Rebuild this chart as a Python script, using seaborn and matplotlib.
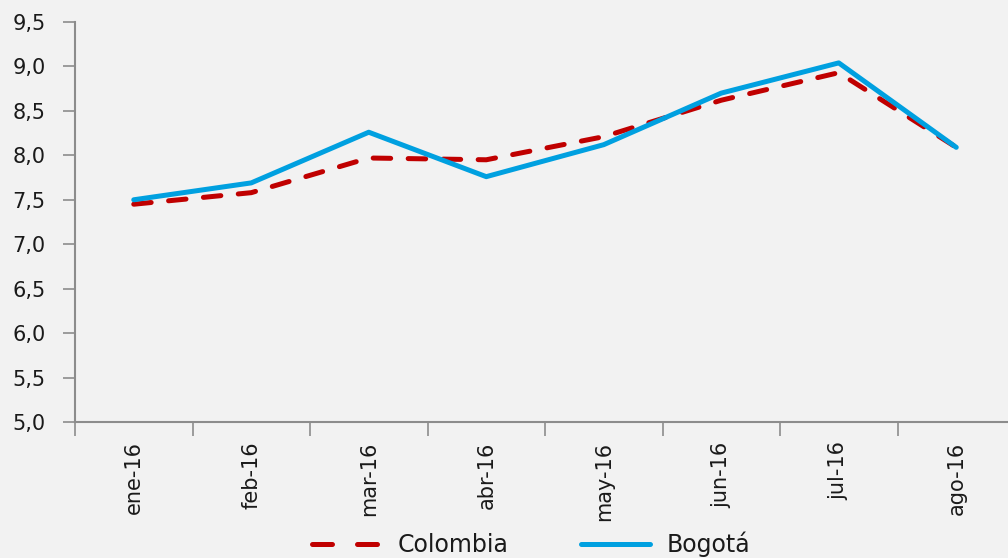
import pandas as pd
import seaborn as sns
import matplotlib.pyplot as plt
from matplotlib.lines import Line2D
from matplotlib.ticker import FuncFormatter, FixedLocator

meses = ['ene-16', 'feb-16', 'mar-16', 'abr-16', 'may-16', 'jun-16', 'jul-16', 'ago-16']
colombia = [7.45, 7.58, 7.97, 7.95, 8.21, 8.62, 8.93, 8.09]
bogota = [7.50, 7.69, 8.26, 7.76, 8.12, 8.70, 9.04, 8.09]
y_ticks = [5.0, 5.5, 6.0, 6.5, 7.0, 7.5, 8.0, 8.5, 9.0, 9.5]

df = pd.DataFrame({'mes': meses, 'Colombia': colombia, 'Bogotá': bogota})

sns.set_style("white")
plt.rcParams['font.family'] = ['DejaVu Sans']

fig = plt.figure(figsize=(10.08, 5.58), dpi=100, facecolor='#f2f2f2')
ax = fig.add_axes([75 / 1008, 136 / 558, 940 / 1008, 400 / 558])
ax.set_facecolor('#f2f2f2')

sns.lineplot(data=df, x='mes', y='Colombia', ax=ax, color='#c00000', lw=3.6,
             legend=False, sort=False)
ax.lines[-1].set_dashes((3.5, 3.5))
ax.lines[-1].set_dash_capstyle('round')
sns.lineplot(data=df, x='mes', y='Bogotá', ax=ax, color='#00a0e0', lw=3.6,
             legend=False, sort=False)
ax.lines[-1].set_solid_capstyle('round')

ax.set_xlim(-0.5, len(meses) - 0.5)
ax.set_ylim(5.0, 9.5)
ax.yaxis.set_major_locator(FixedLocator(y_ticks))
ax.yaxis.set_major_formatter(FuncFormatter(lambda v, p: f"{v:.1f}".replace('.', ',')))

# ticks on category boundaries, labels centred
ax.set_xticks(range(len(meses)))
ax.set_xticklabels(meses, rotation=90)
ax.set_xticks([i - 0.5 for i in range(len(meses))], minor=True)
ax.tick_params(axis='x', which='major', length=0, pad=14, labelsize=15, labelcolor='#1a1a1a')
ax.tick_params(axis='x', which='minor', bottom=True, length=10, width=1.2, color='#8c8c8c',
               direction='out')
ax.tick_params(axis='y', left=True, length=9, width=1.2, color='#8c8c8c', direction='out',
               labelsize=15, labelcolor='#1a1a1a', pad=12)

for side in ['top', 'right']:
    ax.spines[side].set_visible(False)
for side in ['left', 'bottom']:
    ax.spines[side].set_color('#8c8c8c')
    ax.spines[side].set_linewidth(1.5)

ax.set_xlabel('')
ax.set_ylabel('')

# legend handles: two dashes for Colombia, solid for Bogotá
h_col = Line2D([], [], color='#c00000', lw=3.6, dashes=(4, 5), dash_capstyle='round')
h_bog = Line2D([], [], color='#00a0e0', lw=3.6, solid_capstyle='round')
fig.legend([h_col, h_bog], ['Colombia', 'Bogotá'], loc='center', bbox_to_anchor=(0.527, 0.024),
           ncol=2, frameon=False, fontsize=17, handlelength=2.9, columnspacing=3.1,
           handletextpad=0.7, labelcolor='#1a1a1a')

fig.savefig('out.png', dpi=100, facecolor=fig.get_facecolor())
